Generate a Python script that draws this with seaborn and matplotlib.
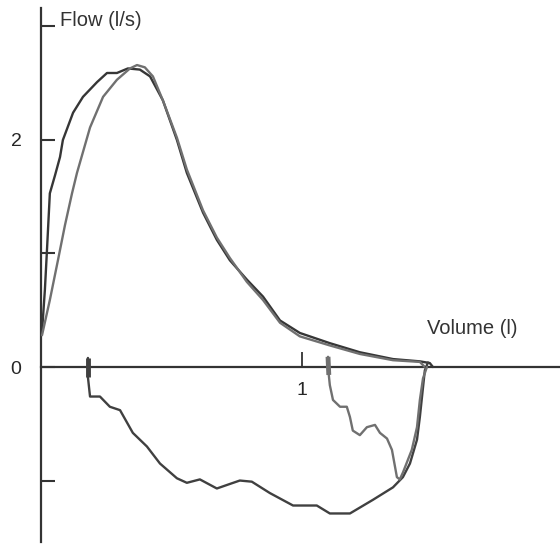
import matplotlib
matplotlib.use("Agg")
from matplotlib import pyplot as plt
import pandas as pd
import seaborn as sns

# flow-volume loops (volume in l, flow in l/s)
exp1_vol = [0.004, 0.015, 0.023, 0.034, 0.054, 0.073, 0.084, 0.123, 0.161, 0.215, 0.253, 0.291,
            0.333, 0.379, 0.418, 0.467, 0.521, 0.559, 0.621, 0.674, 0.724, 0.789, 0.851, 0.916,
            0.992, 1.107, 1.222, 1.349, 1.452, 1.490, 1.502]
exp1_flow = [0.31, 0.68, 1.03, 1.53, 1.69, 1.85, 2.00, 2.24, 2.38, 2.51, 2.59, 2.59,
             2.63, 2.62, 2.56, 2.35, 2.00, 1.71, 1.36, 1.12, 0.94, 0.77, 0.62, 0.41,
             0.30, 0.21, 0.13, 0.07, 0.05, 0.035, 0.0]

exp2_vol = [0.004, 0.034, 0.065, 0.092, 0.119, 0.138, 0.188, 0.238, 0.291, 0.341, 0.368, 0.398,
            0.429, 0.467, 0.521, 0.559, 0.621, 0.674, 0.724, 0.789, 0.851, 0.916, 0.992,
            1.107, 1.222, 1.349, 1.452, 1.471]
exp2_flow = [0.28, 0.59, 0.94, 1.25, 1.53, 1.71, 2.11, 2.38, 2.53, 2.63, 2.66, 2.64,
             2.56, 2.35, 2.02, 1.74, 1.38, 1.14, 0.96, 0.75, 0.59, 0.39, 0.27,
             0.19, 0.115, 0.06, 0.045, 0.0]

insp1_vol = [0.180, 0.180, 0.188, 0.226, 0.264, 0.303, 0.352, 0.406, 0.456, 0.521, 0.559, 0.609,
             0.674, 0.724, 0.762, 0.808, 0.877, 0.966, 1.057, 1.107, 1.184, 1.272, 1.349, 1.387,
             1.414, 1.441, 1.452, 1.464, 1.471, 1.483]
insp1_flow = [0.08, -0.09, -0.26, -0.26, -0.35, -0.38, -0.58, -0.70, -0.85, -0.98, -1.02, -0.99,
              -1.07, -1.03, -1.00, -1.01, -1.11, -1.22, -1.22, -1.29, -1.29, -1.17, -1.06, -0.97,
              -0.85, -0.64, -0.44, -0.18, -0.03, 0.04]

insp2_vol = [1.100, 1.103, 1.107, 1.119, 1.146, 1.172, 1.184, 1.195, 1.222, 1.249, 1.280, 1.299,
             1.326, 1.345, 1.364, 1.375, 1.387, 1.421, 1.441, 1.452, 1.464, 1.479]
insp2_flow = [0.09, -0.07, -0.16, -0.29, -0.35, -0.35, -0.44, -0.56, -0.60, -0.53, -0.51, -0.58,
              -0.63, -0.73, -0.97, -0.99, -0.93, -0.73, -0.53, -0.29, -0.10, 0.0]

y_ticks = [-1, 0, 1, 2, 3]
y_labels = ["", "0", "", "2", ""]
x_ticks = [1]
x_labels = ["1"]

sns.set_style("white")
plt.rcParams["font.family"] = ["Liberation Sans", "DejaVu Sans"]

dark = "#363636"
light = "#707070"

fig = plt.figure(figsize=(5.6, 5.44), dpi=100)
ax = fig.add_axes([0, 0, 1, 1])

curves = [(exp1_vol, exp1_flow, dark), (exp2_vol, exp2_flow, light),
          (insp1_vol, insp1_flow, "#404040"), (insp2_vol, insp2_flow, light)]
for vol, flow, col in curves:
    d = pd.DataFrame({"vol": vol, "flow": flow})
    sns.lineplot(data=d, x="vol", y="flow", sort=False, estimator=None,
                 color=col, lw=1.7, ax=ax)

# thick start marks of the inspiratory loops
for vol, flow, col in curves[2:]:
    ax.plot(vol[:2], flow[:2], color=col, lw=3.5, solid_capstyle="butt")

ax.set_xlim(-0.157, 1.989)
ax.set_ylim(-1.559, 3.233)
ax.set_xlabel("")
ax.set_ylabel("")

for s in ["top", "right"]:
    ax.spines[s].set_visible(False)
ax.spines["left"].set_position(("data", 0))
ax.spines["bottom"].set_position(("data", 0))
ax.spines["left"].set_bounds(-1.54, 3.16)
ax.spines["bottom"].set_bounds(0, 1.989)
for s in ["left", "bottom"]:
    ax.spines[s].set_color("#333333")
    ax.spines[s].set_linewidth(1.6)
    ax.spines[s].set_zorder(1)

ax.set_yticks(y_ticks, y_labels)
ax.set_xticks(x_ticks, x_labels)
ax.tick_params(axis="y", direction="in", length=10, width=1.5, color="#333333",
               labelsize=14, pad=14, left=True)
ax.tick_params(axis="x", direction="in", length=11, width=1.3, color="#333333",
               labelsize=14, pad=11, bottom=True)

ax.text(0.073, 3.05, "Flow (l/s)", fontsize=14.5, color="#333333", va="center", ha="left")
ax.text(1.479, 0.34, "Volume (l)", fontsize=14.5, color="#333333", va="center", ha="left")

fig.savefig("out.png", dpi=100)
